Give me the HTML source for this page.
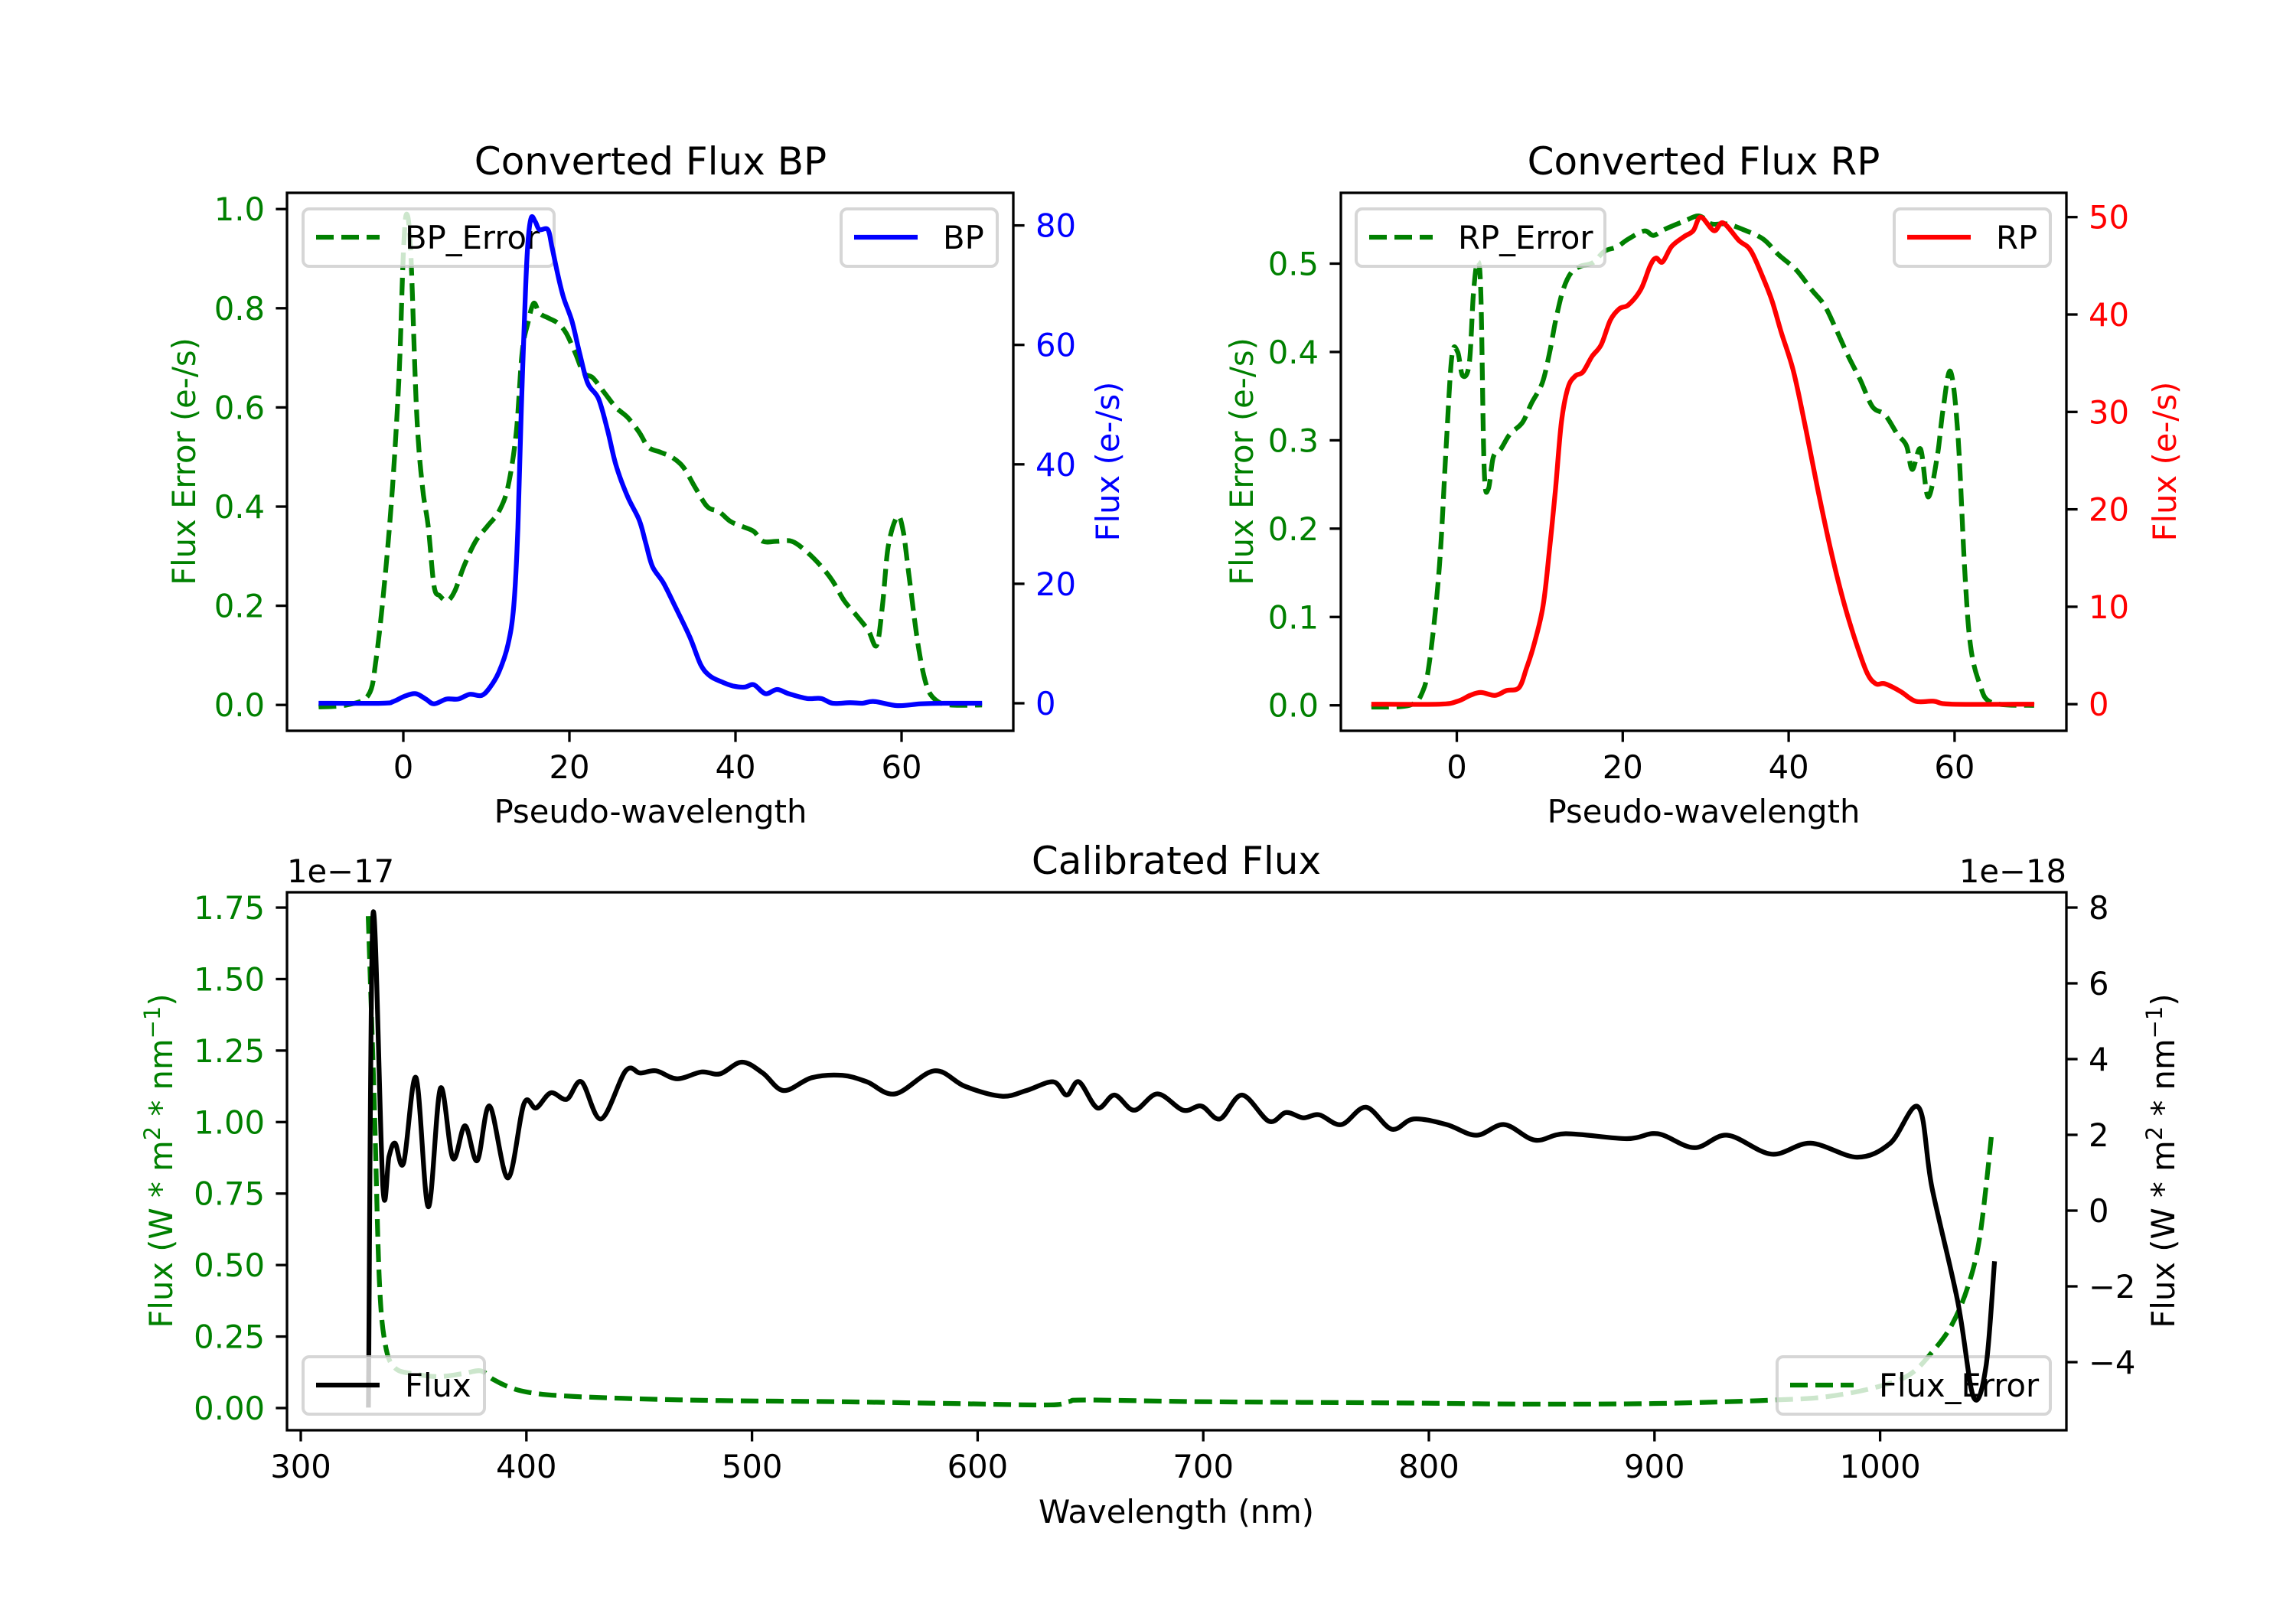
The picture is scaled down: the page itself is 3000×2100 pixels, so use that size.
<!DOCTYPE html>
<html><head><meta charset="utf-8"><style>
html,body{margin:0;padding:0;background:#fff}
svg{display:block}
text{font-family:"DejaVu Sans","Liberation Sans",sans-serif}
</style></head><body>
<svg id="fig" width="3000" height="2100" viewBox="0 0 3000 2100" xmlns="http://www.w3.org/2000/svg"></svg>
<script>
// ---------- data ----------
const bpErrX=[-10.2,-6.8,-4.2,-3.3,-2.3,-1.3,-0.5,0,0.4,0.9,1.6,2.3,3.0,3.7,4.4,5.3,6.2,7.3,8.7,10.1,11.5,12.6,13.6,14.3,15.0,15.7,16.4,17.5,18.6,19.6,20.7,21.7,22.8,24.2,25.6,27.0,28.4,29.5,30.9,32.3,33.7,35.1,36.6,38.0,39.4,40.8,42.2,43.3,45.0,46.8,48.5,50.3,51.7,53.1,54.6,56.0,57.0,57.7,58.4,59.5,60.2,60.9,62.0,63.0,64.1,65.8,69.7];
const bpErrY=[-0.004,0,0.02,0.09,0.24,0.44,0.67,0.91,0.99,0.91,0.59,0.44,0.36,0.24,0.22,0.21,0.23,0.28,0.33,0.36,0.39,0.44,0.55,0.71,0.77,0.81,0.79,0.78,0.77,0.75,0.71,0.67,0.66,0.63,0.60,0.58,0.55,0.52,0.51,0.50,0.48,0.44,0.40,0.39,0.37,0.36,0.35,0.33,0.33,0.33,0.31,0.28,0.25,0.21,0.18,0.15,0.12,0.20,0.32,0.38,0.35,0.26,0.12,0.04,0.01,0,0];
const bpX=[-10.2,-2.6,-1.2,0.2,1.5,2.7,3.7,5.2,6.6,8.0,9.4,10.4,11.5,12.6,13.3,13.8,14.2,14.7,15.0,15.4,15.9,16.4,17.4,17.9,18.6,19.3,20.3,21.2,22.2,23.5,24.6,25.6,27.0,28.4,29.2,30.0,31.3,32.7,34.5,35.8,36.9,38.3,39.7,41.1,42.2,43.6,45.0,46.4,48.6,50.3,51.7,53.8,55.3,56.7,59.5,62.3,65.1,69.7];
const bpY=[0,0,0.3,1.2,1.6,0.7,-0.1,0.7,0.7,1.5,1.3,2.6,5.2,9.8,16.3,29.4,49,68.6,77.1,81.3,80.6,79.3,79.3,76.4,71.8,67.9,64.0,58.8,53.6,51,45.7,39.9,34.6,30.7,26.8,22.9,20.2,16.3,11.1,6.5,4.6,3.6,2.9,2.7,3.1,1.6,2.3,1.6,0.8,0.8,0,0.1,0,0.3,-0.4,-0.1,0,0];
const rpErrX=[-10.3,-5.7,-4.1,-3.2,-2.1,-1.3,-0.6,0.1,0.7,1.5,2.0,2.5,2.9,3.3,3.8,4.4,5.3,6.4,7.9,9.0,10.3,11.2,11.9,12.8,13.8,14.9,16.4,17.8,19.3,20.7,22.6,23.7,25.1,27.4,29.2,30.7,32.5,34.4,36.9,38.8,40.9,42.8,44.3,45.7,47.2,48.6,50.1,51.6,53.1,54.2,54.9,55.9,56.8,57.9,58.6,59.5,60.4,61.2,61.9,63.0,64.5,69.6];
const rpErrY=[-0.002,0,0.016,0.056,0.157,0.29,0.395,0.40,0.373,0.387,0.466,0.502,0.466,0.267,0.245,0.281,0.290,0.307,0.320,0.342,0.365,0.40,0.435,0.47,0.49,0.497,0.501,0.514,0.519,0.528,0.537,0.532,0.539,0.548,0.554,0.545,0.545,0.539,0.528,0.510,0.493,0.47,0.453,0.426,0.395,0.369,0.338,0.329,0.307,0.294,0.267,0.290,0.236,0.281,0.334,0.378,0.307,0.157,0.069,0.025,0.003,0];
const rpX=[-10.3,-2.1,0.1,1.6,2.9,4.6,6.0,7.5,8.4,9.3,10.4,11.2,11.9,12.6,13.4,14.3,15.2,16.3,17.4,18.5,19.6,20.7,22.2,23.3,24.0,24.8,25.9,27.4,28.5,29.4,31.0,32.1,34.0,35.4,36.9,38.0,39.1,40.6,42.1,43.5,45.0,46.5,47.9,49.4,50.5,51.6,53.5,55.3,57.5,59.7,69.6];
const rpY=[0,0,0.3,0.9,1.2,0.9,1.4,1.7,3.7,6.1,10.1,16.1,22.1,28.9,32.5,33.7,34.1,35.7,36.9,39.4,40.6,41.0,42.6,45.0,45.8,45.4,47.0,48.0,48.6,50.0,48.6,49.4,47.6,46.6,43.8,41.4,38.2,34.1,28.1,22.1,16.1,10.9,6.9,3.3,2.1,2.1,1.3,0.3,0.3,0,0];
const calX=[330,332,336.4,339.1,341.8,345.6,351.1,356.5,361.9,367.4,372.8,378.2,383.7,391.8,398.9,404.3,410.8,417.9,424.4,433.1,444.0,450.5,457.5,466.8,477.6,485.8,495.5,504.8,514.0,526.5,540.1,550.9,563.4,580.8,594.4,610.7,621.6,633.5,639.5,644.9,653.1,660.7,669.4,679.7,691.1,699.2,707.4,717.2,729.1,736.7,744.3,751.4,761.2,772.1,783.5,793.3,807.9,821.0,833.4,847.0,860.6,887.7,901.4,917.6,932.3,951.8,969.2,989.8,1004.5,1017.0,1023.0,1034.4,1041.4,1046.9,1050.7];
const calY=[-5.2,7.8,0.62,1.43,1.78,1.26,3.51,0.10,3.23,1.38,2.24,1.32,2.76,0.86,2.82,2.71,3.11,2.94,3.40,2.42,3.69,3.63,3.69,3.48,3.66,3.61,3.92,3.63,3.17,3.51,3.57,3.40,3.08,3.69,3.28,3.02,3.17,3.40,3.05,3.40,2.71,3.05,2.65,3.08,2.65,2.76,2.42,3.05,2.36,2.59,2.45,2.53,2.27,2.73,2.15,2.42,2.27,1.99,2.27,1.86,2.03,1.90,2.03,1.66,1.99,1.49,1.78,1.41,1.78,2.73,0.6,-2.4,-4.92,-4.12,-1.34];
const calErrX=[329.9,332.6,334.8,337.5,341.8,350.0,360.8,371.7,379.8,385.3,393.4,401.6,415.2,442.3,485.8,540.1,594.4,632.4,640.6,648.7,703.0,784.5,838.8,893.1,931.1,952.9,974.6,996.4,1012.7,1023.5,1031.7,1038.7,1044.2,1049.6];
const calErrY=[1.72,1.06,0.45,0.22,0.14,0.12,0.11,0.12,0.13,0.10,0.07,0.054,0.043,0.034,0.026,0.022,0.015,0.011,0.023,0.028,0.022,0.018,0.014,0.015,0.022,0.028,0.038,0.069,0.115,0.20,0.29,0.42,0.60,0.97];
const bpLeftTicks=[0,0.2,0.4,0.6,0.8,1.0];
const bpRightTicks=[0,20,40,60,80];
const pwTicks=[0,20,40,60];
const rpLeftTicks=[0,0.1,0.2,0.3,0.4,0.5];
const rpRightTicks=[0,10,20,30,40,50];
const wlTicks=[300,400,500,600,700,800,900,1000];
const calLeftTicks=[0,0.25,0.5,0.75,1.0,1.25,1.5,1.75];
const calRightTicks=[-4,-2,0,2,4,6,8];

// ---------- helpers ----------
const NS='http://www.w3.org/2000/svg';
const svg=document.getElementById('fig');
function el(tag,attrs,parent){const e=document.createElementNS(NS,tag);for(const k in attrs)e.setAttribute(k,attrs[k]);(parent||svg).appendChild(e);return e;}
function txt(s,attrs,parent){const t=el('text',attrs,parent);t.textContent=s;return t;}
const FS=41.7, TL=14.6, LW=3.3, G='#008000';
let clipId=0;
function makeAxes(name,L,R,T,B){
  const g=el('g',{});
  
  
  const id='clip'+(clipId++);
  const cp=el('clipPath',{id:id},g);el('rect',{x:L,y:T,width:R-L,height:B-T},cp);
  return {g,L,R,T,B,clip:'url(#'+id+')'};
}
function smoothPath(pts){
  let d='M'+pts[0][0].toFixed(1)+','+pts[0][1].toFixed(1);
  for(let i=0;i<pts.length-1;i++){
    const p0=pts[i-1]||pts[i],p1=pts[i],p2=pts[i+1],p3=pts[i+2]||p2;
    const c1=[p1[0]+(p2[0]-p0[0])/6,p1[1]+(p2[1]-p0[1])/6];
    const c2=[p2[0]-(p3[0]-p1[0])/6,p2[1]-(p3[1]-p1[1])/6];
    d+=' C'+c1[0].toFixed(1)+','+c1[1].toFixed(1)+' '+c2[0].toFixed(1)+','+c2[1].toFixed(1)+' '+p2[0].toFixed(1)+','+p2[1].toFixed(1);
  }
  return d;
}
function line(ax,xs,ys,fx,fy,color,dashed,name){
  const pts=xs.map((x,i)=>[fx(x),fy(ys[i])]);
  const pl=el('path',{d:smoothPath(pts),fill:'none',stroke:color,'stroke-width':6.25,'stroke-linejoin':'round','clip-path':ax.clip},ax.g);
  if(dashed)pl.setAttribute('stroke-dasharray','23 10');
  
  
}
function frame(ax){
  const r=el('rect',{x:ax.L,y:ax.T,width:ax.R-ax.L,height:ax.B-ax.T,fill:'none',stroke:'#000','stroke-width':LW},ax.g);
  
  
}
function yTicks(ax,ticks,fy,side,color,fmt,name){
  const g=el('g',{},ax.g);
  
  
  ticks.forEach(v=>{const y=fy(v);
    if(side==='left'){el('line',{x1:ax.L-TL,x2:ax.L,y1:y,y2:y,stroke:'#000','stroke-width':LW},g);
      txt(fmt(v),{x:ax.L-29,y:y+15,'text-anchor':'end','font-size':FS,fill:color},g);}
    else{el('line',{x1:ax.R,x2:ax.R+TL,y1:y,y2:y,stroke:'#000','stroke-width':LW},g);
      txt(fmt(v),{x:ax.R+29,y:y+15,'text-anchor':'start','font-size':FS,fill:color},g);}
  });
}
function xTicks(ax,ticks,fx,name){
  const g=el('g',{},ax.g);
  
  
  ticks.forEach(v=>{const x=fx(v);
    el('line',{x1:x,x2:x,y1:ax.B,y2:ax.B+TL,stroke:'#000','stroke-width':LW},g);
    txt(String(v),{x:x,y:ax.B+62,'text-anchor':'middle','font-size':FS,fill:'#000'},g);});
}
function legend(ax,x,y,w,label,color,dashed,name){
  const g=el('g',{},ax.g);
  
  
  el('rect',{x:x,y:y,width:w,height:75,rx:8,fill:'#fff','fill-opacity':0.8,stroke:'#cccccc','stroke-opacity':0.8,'stroke-width':4},g);
  const ln=el('line',{x1:x+17,x2:x+100,y1:y+37,y2:y+37,stroke:color,'stroke-width':6.25},g);
  if(dashed)ln.setAttribute('stroke-dasharray','23 10');
  txt(label,{x:x+133,y:y+52,'font-size':FS,fill:'#000'},g);
}
function ylabel(x,y,s,color,name){
  const t=txt(s,{x:x,y:y,'text-anchor':'middle','font-size':FS,fill:color,transform:'rotate(-90 '+x+' '+y+')'});
  
  
  return t;
}
function label(x,y,s,size,anchor,name){
  const t=txt(s,{x:x,y:y,'text-anchor':anchor,'font-size':size,fill:'#000'});
  
  
}
const f1=v=>v.toFixed(1), f0=v=>String(v), f2=v=>v.toFixed(2), fm=v=>(v<0?'\u2212'+Math.abs(v):String(v));

// ---------- BP ----------
{const ax=makeAxes('bp-axes',375,1324,252,955);
 const fx=x=>527+x*10.85, fyL=v=>921.2-v*648, fyR=v=>919-v*7.805;
 line(ax,bpErrX,bpErrY,fx,fyL,G,true,'bp-error-line');
 legend(ax,396,273,328,'BP_Error',G,true,'bp-error-legend');
 line(ax,bpX,bpY,fx,fyR,'#0000ff',false,'bp-flux-line');
 legend(ax,1099,273,204,'BP','#0000ff',false,'bp-legend');
 frame(ax);
 yTicks(ax,bpLeftTicks,fyL,'left',G,f1,'bp-left-ticks');
 yTicks(ax,bpRightTicks,fyR,'right','#0000ff',f0,'bp-right-ticks');
 xTicks(ax,pwTicks,fx,'bp-x-ticks');
 label(850,228,'Converted Flux BP',50,'middle','bp-title');
 label(850,1075,'Pseudo-wavelength',FS,'middle','bp-x-label');
 ylabel(255,603,'Flux Error (e-/s)',G,'bp-left-y-label');
 ylabel(1462,603,'Flux (e-/s)','#0000ff','bp-right-y-label');
}
// ---------- RP ----------
{const ax=makeAxes('rp-axes',1752,2700,252,955);
 const fx=x=>1903.5+x*10.84, fyL=v=>921.7-v*1154.4, fyR=v=>920.2-v*12.73;
 line(ax,rpErrX,rpErrY,fx,fyL,G,true,'rp-error-line');
 legend(ax,1772,273,325,'RP_Error',G,true,'rp-error-legend');
 line(ax,rpX,rpY,fx,fyR,'#ff0000',false,'rp-flux-line');
 legend(ax,2475,273,204,'RP','#ff0000',false,'rp-legend');
 frame(ax);
 yTicks(ax,rpLeftTicks,fyL,'left',G,f1,'rp-left-ticks');
 yTicks(ax,rpRightTicks,fyR,'right','#ff0000',f0,'rp-right-ticks');
 xTicks(ax,pwTicks,fx,'rp-x-ticks');
 label(2226,228,'Converted Flux RP',50,'middle','rp-title');
 label(2226,1075,'Pseudo-wavelength',FS,'middle','rp-x-label');
 ylabel(1637,603,'Flux Error (e-/s)',G,'rp-left-y-label');
 ylabel(2843,603,'Flux (e-/s)','#ff0000','rp-right-y-label');
}
// ---------- Calibrated ----------
{const ax=makeAxes('calibrated-axes',375,2700,1166,1869);
 const fx=x=>393+(x-300)*2.948, fyL=v=>1840-v*373.7, fyR=v=>1582-v*49.5;
 line(ax,calErrX,calErrY,fx,fyL,G,true,'flux-error-line');
 legend(ax,2322,1773,357,'Flux_Error',G,true,'flux-error-legend');
 line(ax,calX,calY,fx,fyR,'#000',false,'flux-line');
 legend(ax,396,1773,237,'Flux','#000',false,'flux-legend');
 frame(ax);
 yTicks(ax,calLeftTicks,fyL,'left',G,f2,'cal-left-ticks');
 yTicks(ax,calRightTicks,fyR,'right','#000',fm,'cal-right-ticks');
 xTicks(ax,wlTicks,fx,'cal-x-ticks');
 label(1537,1142,'Calibrated Flux',50,'middle','cal-title');
 label(1537,1990,'Wavelength (nm)',FS,'middle','cal-x-label');
 label(375,1153,'1e\u221217',FS,'start','left-offset-text');
 label(2700,1153,'1e\u221218',FS,'end','right-offset-text');
 const t1=ylabel(225,1517,'',G,'cal-left-y-label');
 t1.innerHTML='Flux (W * m<tspan dy="-16" font-size="29">2</tspan><tspan dy="16"> * nm</tspan><tspan dy="-16" font-size="29">\u22121</tspan><tspan dy="16">)</tspan>';
 const t2=ylabel(2841,1517,'','#000','cal-right-y-label');
 t2.innerHTML='Flux (W * m<tspan dy="-16" font-size="29">2</tspan><tspan dy="16"> * nm</tspan><tspan dy="-16" font-size="29">\u22121</tspan><tspan dy="16">)</tspan>';
}
</script>
</body></html>
